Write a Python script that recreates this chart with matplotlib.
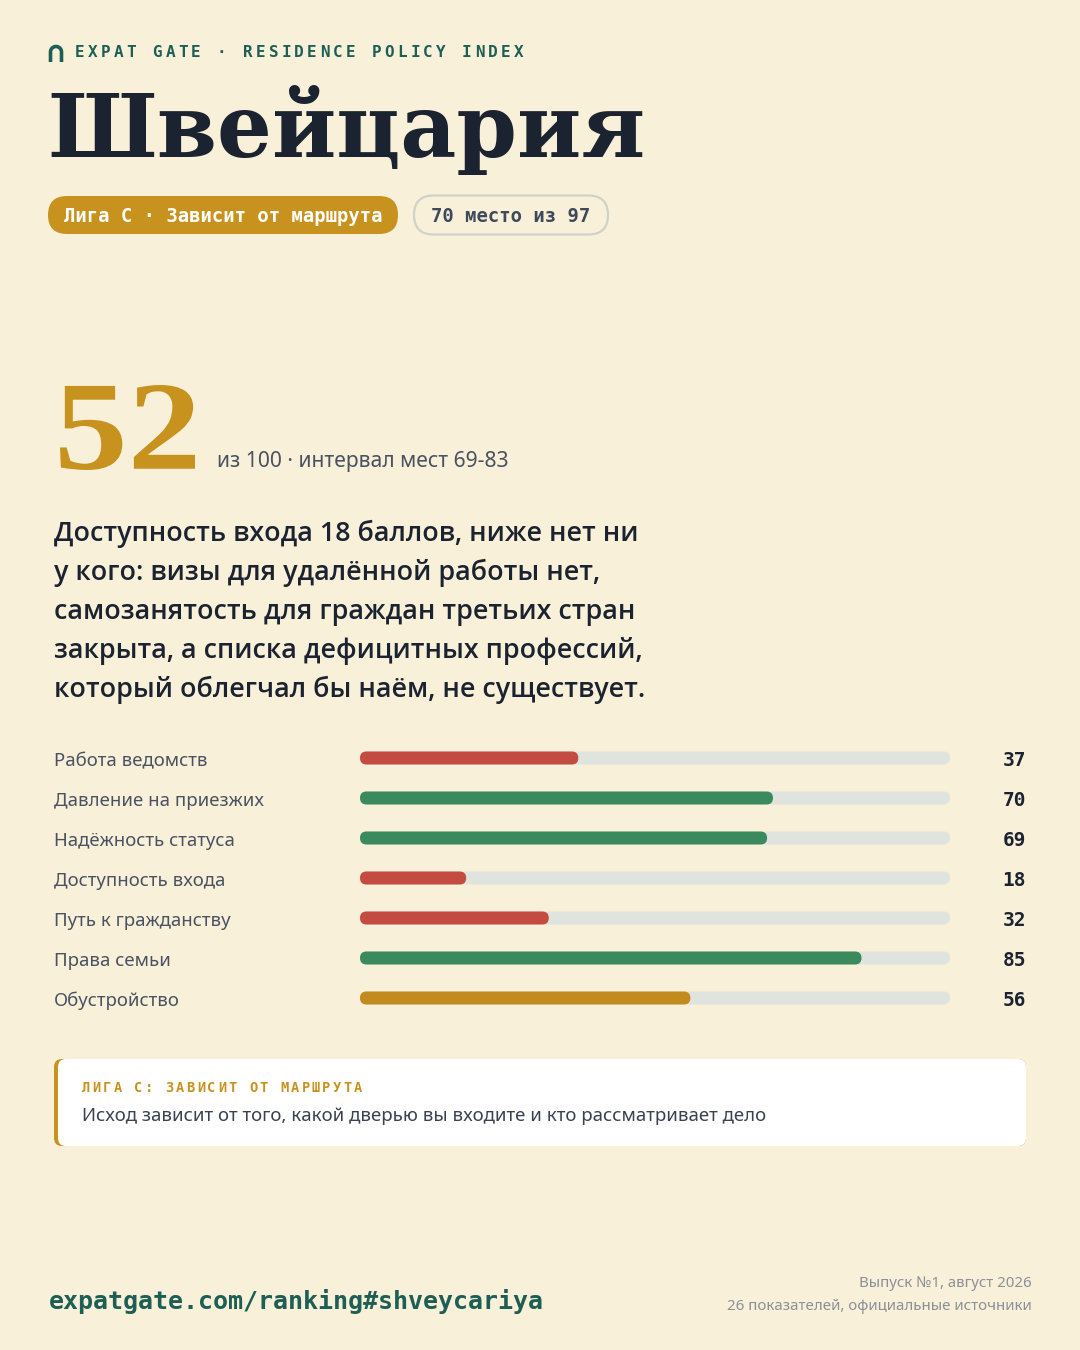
import matplotlib
matplotlib.use("Agg")
import matplotlib.pyplot as plt
from matplotlib.patches import FancyBboxPatch, PathPatch
from matplotlib.textpath import TextPath
from matplotlib.font_manager import FontProperties, fontManager
import matplotlib.transforms as mtransforms
import numpy as np

# данные
brand = "EXPAT GATE · RESIDENCE POLICY INDEX"
country = "Швейцария"
league_pill = "Лига C · Зависит от маршрута"
rank_pill = "70 место из 97"
score = 52
score_note = "из 100 · интервал мест 69-83"
summary = [
    "Доступность входа 18 баллов, ниже нет ни",
    "у кого: визы для удалённой работы нет,",
    "самозанятость для граждан третьих стран",
    "закрыта, а списка дефицитных профессий,",
    "который облегчал бы наём, не существует.",
]
categories = ["Работа ведомств", "Давление на приезжих", "Надёжность статуса",
              "Доступность входа", "Путь к гражданству", "Права семьи", "Обустройство"]
values = [37, 70, 69, 18, 32, 85, 56]
bar_colors = ["#c44b3f", "#3b8a5e", "#3b8a5e", "#c44b3f", "#c44b3f", "#3b8a5e", "#c38b1e"]
callout_title = "ЛИГА C: ЗАВИСИТ ОТ МАРШРУТА"
callout_text = "Исход зависит от того, какой дверью вы входите и кто рассматривает дело"
footer_url = "expatgate.com/ranking#shveycariya"
footer_right = ["Выпуск №1, август 2026", "26 показателей, официальные источники"]

BG = "#f9f0da"
DARK = "#1c2330"
TEAL = "#1d5e55"
GOLD = "#c8921e"
GRAY = "#4a5262"
TRACK = "#dfe4de"

# жирный шрифт для абзаца: ищем настоящий файл полужирного/жирного начертания
def pick_bold():
    fonts = [(f.name, f.weight) for f in fontManager.ttflist]
    for want in (600, 700):
        for fam in ("Noto Sans", "Open Sans", "Lato", "Roboto", "Inter"):
            for name, w in fonts:
                if name == fam and w in (want, {600: "semibold", 700: "bold"}[want]):
                    return fam, want
    return "Liberation Sans", 700

BOLD_FAM, BOLD_W = pick_bold()

W, H = 1080, 1350
fig = plt.figure(figsize=(W / 100, H / 100), dpi=100, facecolor=BG)
bg = fig.add_axes([0, 0, 1, 1])
bg.set_xlim(0, W)
bg.set_ylim(H, 0)
bg.axis("off")
bg.set_facecolor(BG)

renderer = fig.canvas.get_renderer()


def fit_text(ax, x, y, s, width, **kw):
    t = ax.text(x, y, s, **kw)
    bb = t.get_window_extent(renderer=renderer)
    t.set_fontsize(t.get_fontsize() * width / bb.width)
    return t


def spaced(ax, x, y, s, pitch, **kw):
    for i, ch in enumerate(s):
        ax.text(x + i * pitch, y, ch, ha="left", va="baseline", **kw)


# логотип-арка
th = np.linspace(0, np.pi, 40)
arc_x = np.concatenate([[50.5], 56 - 5.5 * np.cos(th), [61.5]])
arc_y = np.concatenate([[62], 52 - 5.5 * np.sin(th), [62]])
bg.plot(arc_x, arc_y, color=TEAL, lw=2.6, solid_capstyle="butt")

spaced(bg, 75, 57, brand, 12.9, fontsize=11.5, fontweight="bold",
       family="DejaVu Sans Mono", color=TEAL)

# заголовок
fit_text(bg, 47, 157, country, 598, fontsize=64, fontweight="bold",
         family="DejaVu Serif", color=DARK, va="baseline")

# плашки
bg.add_patch(FancyBboxPatch((48, 196), 350, 38, boxstyle="round,pad=0,rounding_size=19",
                            fc=GOLD, ec="none"))
bg.text(223, 216, league_pill, ha="center", va="center", fontsize=13.6,
        fontweight="bold", family="DejaVu Sans Mono", color="white")
bg.add_patch(FancyBboxPatch((414, 195.5), 194, 39, boxstyle="round,pad=0,rounding_size=19.5",
                            fc="none", ec="#cfd2c9", lw=1.6))
bg.text(511, 216, rank_pill, ha="center", va="center", fontsize=13.6,
        fontweight="bold", family="DejaVu Sans Mono", color="#3e4a5c")

# оценка: контур цифр вписан в рамку
tp = TextPath((0, 0), str(score), size=100,
              prop=FontProperties(family="Liberation Serif", weight="bold"))
ext = tp.get_extents()
sx = (195 - 60) / ext.width
sy = (470 - 385) / ext.height
tr = (mtransforms.Affine2D().translate(-ext.x0, -ext.y0).scale(sx, -sy)
      .translate(60, 470))
bg.add_patch(PathPatch(tr.transform_path(tp), fc=GOLD, ec="none"))
fit_text(bg, 217, 467, score_note, 292, fontsize=16, family="Noto Sans",
         color=GRAY, va="baseline")

# текст
t0 = fit_text(bg, 54, 541, summary[0], 582, fontsize=20, fontweight=BOLD_W,
              family=BOLD_FAM, color=DARK, va="baseline")
for i, line in enumerate(summary[1:], start=1):
    bg.text(54, 541 + 39 * i, line, fontsize=t0.get_fontsize(), fontweight=BOLD_W,
            family=BOLD_FAM, color=DARK, va="baseline")

# полосы
x0, x1 = 360, 950
top, row_h = 738, 40
n = len(categories)
bars = fig.add_axes([x0 / W, 1 - (top + row_h * n) / H, (x1 - x0) / W, row_h * n / H])
bars.set_xlim(0, 100)
bars.set_ylim(n - 0.5, -0.5)
bars.axis("off")
bar_h = 13 / row_h
r_x = 6.5 / ((x1 - x0) / 100)
aspect = (6.5 / row_h) / r_x
for i, (v, c) in enumerate(zip(values, bar_colors)):
    bars.add_patch(FancyBboxPatch((0, i - bar_h / 2), 100, bar_h,
                                  boxstyle=f"round,pad=0,rounding_size={r_x}",
                                  mutation_aspect=aspect, fc=TRACK, ec="none"))
    bars.add_patch(FancyBboxPatch((0, i - bar_h / 2), v, bar_h,
                                  boxstyle=f"round,pad=0,rounding_size={r_x}",
                                  mutation_aspect=aspect, fc=c, ec="none"))

trans = mtransforms.blended_transform_factory(bg.transData, bars.transData)
for i, (cat, v) in enumerate(zip(categories, values)):
    bg.text(54, i + 0.08, cat, transform=trans, fontsize=13.4, family="Noto Sans",
            color=GRAY, va="center")
    bg.text(1026, i + 0.05, str(v), transform=trans, fontsize=14, fontweight="bold",
            family="DejaVu Sans Mono", color=DARK, va="center", ha="right")

# выноска
bg.add_patch(FancyBboxPatch((54, 1059), 972, 87, boxstyle="round,pad=0,rounding_size=8",
                            fc=GOLD, ec="none"))
bg.add_patch(FancyBboxPatch((58, 1059), 968, 87, boxstyle="round,pad=0,rounding_size=8",
                            fc="white", ec="none"))
spaced(bg, 82, 1092, callout_title, 10.45, fontsize=9.8, fontweight="bold",
       family="DejaVu Sans Mono", color=GOLD)
fit_text(bg, 82, 1121, callout_text, 685, fontsize=13.5, family="Noto Sans",
         color="#3a4150", va="baseline")

# подвал
bg.text(49, 1309, footer_url, fontsize=18, fontweight="bold", family="DejaVu Sans Mono",
        color=TEAL, va="baseline")
bg.text(1032, 1287, footer_right[0], fontsize=10.8, family="Noto Sans", color="#8b9098",
        ha="right", va="baseline")
fit_text(bg, 1032, 1310, footer_right[1], 305, fontsize=10.8, family="Noto Sans",
         color="#8b9098", ha="right", va="baseline")

fig.savefig("out.png", dpi=100, facecolor=BG)
